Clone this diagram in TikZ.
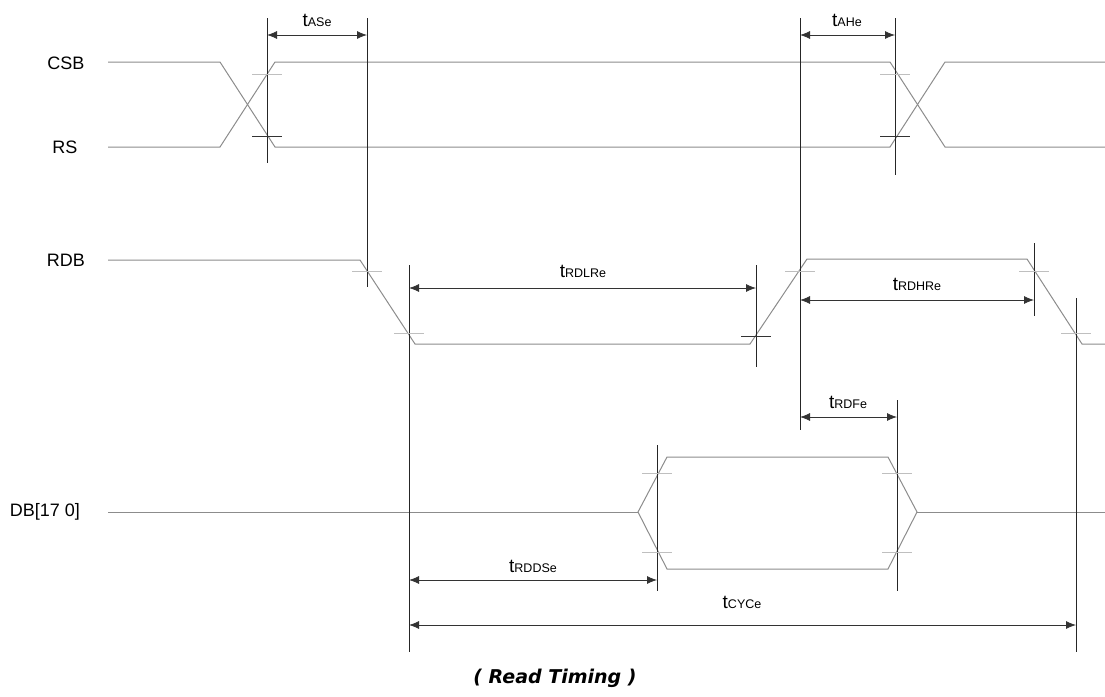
\documentclass[tikz,border=0pt]{standalone}
\usepackage{fontspec}
\setmainfont{Liberation Sans}
\newfontfamily\capfont{DejaVu Sans}
\usetikzlibrary{arrows.meta}

% timing parameter label: big t, small name
\newcommand{\tpar}[1]{{\fontsize{19}{19}\selectfont t}{\fontsize{12.5}{12.5}\selectfont #1}}

\tikzset{
    sigline/.style={gray!90, line width=1pt},
    refline/.style={black!85, line width=0.9pt},
    tickgray/.style={gray!50, line width=1pt},
    tickblack/.style={black!80, line width=1pt},
    dimline/.style={{Latex[length=10pt,width=8pt]}-{Latex[length=10pt,width=8pt]}, black!80, line width=0.8pt},
    siglabel/.style={font=\fontsize{18}{18}\selectfont},
    parlabel/.style={anchor=base, inner sep=0pt}
}

\begin{document}
\begin{tikzpicture}[x=1pt, y=-1pt]

    \useasboundingbox (0,0) rectangle (1105,696);

    % Signal names
    \node[siglabel] (csb) at (66,63) {CSB};
    \node[siglabel] (rs)  at (65,147) {RS};
    \node[siglabel] (rdb) at (66,260) {RDB};
    \node[siglabel] (db)  at (45,512) {DB[17 0]};

    % CSB and RS (crossing)
    \draw[sigline] (108,62) -- (220,62) -- (275,147) -- (890,147) -- (945,62) -- (1105,62);
    \draw[sigline] (108,147) -- (220,147) -- (275,62) -- (890,62) -- (945,147) -- (1105,147);

    % RDB
    \draw[sigline] (108,260) -- (360,260) -- (415,344) -- (750,344) -- (807,259)
        -- (1027,259) -- (1082,344) -- (1105,344);

    % DB[17:0] data window
    \draw[sigline] (108,512) -- (638,512);
    \draw[sigline] (638,512) -- (667,457) -- (888,457) -- (917,512) -- (888,569) -- (667,569) -- cycle;
    \draw[sigline] (917,512) -- (1105,512);

    % Reference verticals
    \foreach \x/\ya/\yb in {267/18/163, 367/18/287, 800/18/430, 895/18/175,
                            409/265/652, 756/265/367, 1034/243/316, 1076/298/652,
                            657/445/591, 897/400/591}
        \draw[refline] (\x,\ya) -- (\x,\yb);

    % Level ticks
    \foreach \x/\y in {267/74, 895/74, 367/271, 409/333, 800/271, 1034/271, 1076/333,
                       657/473, 657/552, 897/473, 897/552}
        \draw[tickgray] (\x-15,\y) -- (\x+15,\y);
    \foreach \x/\y in {267/136, 895/136, 756/336}
        \draw[tickblack] (\x-15,\y) -- (\x+15,\y);

    % Arrow end points
    \coordinate (ase1) at (267,35);   \coordinate (ase2) at (367,35);
    \coordinate (ahe1) at (800,35);   \coordinate (ahe2) at (895,35);
    \coordinate (rdl1) at (409,288);  \coordinate (rdl2) at (756,288);
    \coordinate (rdh1) at (800,300);  \coordinate (rdh2) at (1034,300);
    \coordinate (rdf1) at (800,417);  \coordinate (rdf2) at (897,417);
    \coordinate (rdd1) at (409,580);  \coordinate (rdd2) at (657,580);
    \coordinate (cyc1) at (409,625);  \coordinate (cyc2) at (1076,625);

    % Timing arrows
    \draw[dimline] (ase1) -- (ase2);
    \draw[dimline] (ahe1) -- (ahe2);
    \draw[dimline] (rdl1) -- (rdl2);
    \draw[dimline] (rdh1) -- (rdh2);
    \draw[dimline] (rdf1) -- (rdf2);
    \draw[dimline] (rdd1) -- (rdd2);
    \draw[dimline] (cyc1) -- (cyc2);

    % Timing parameter names
    \node[parlabel] (tase)  at (317,26)  {\tpar{ASe}};
    \node[parlabel] (tahe)  at (847,26)  {\tpar{AHe}};
    \node[parlabel] (trdlr) at (583,277) {\tpar{RDLRe}};
    \node[parlabel] (trdhr) at (917,290) {\tpar{RDHRe}};
    \node[parlabel] (trdf)  at (848,408) {\tpar{RDFe}};
    \node[parlabel] (trdds) at (533,572) {\tpar{RDDSe}};
    \node[parlabel] (tcyc)  at (742,608) {\tpar{CYCe}};

    % Caption
    \node (cap) at (555,678) {\capfont\bfseries\itshape\fontsize{19}{19}\selectfont ( Read Timing )};

\end{tikzpicture}
\end{document}
